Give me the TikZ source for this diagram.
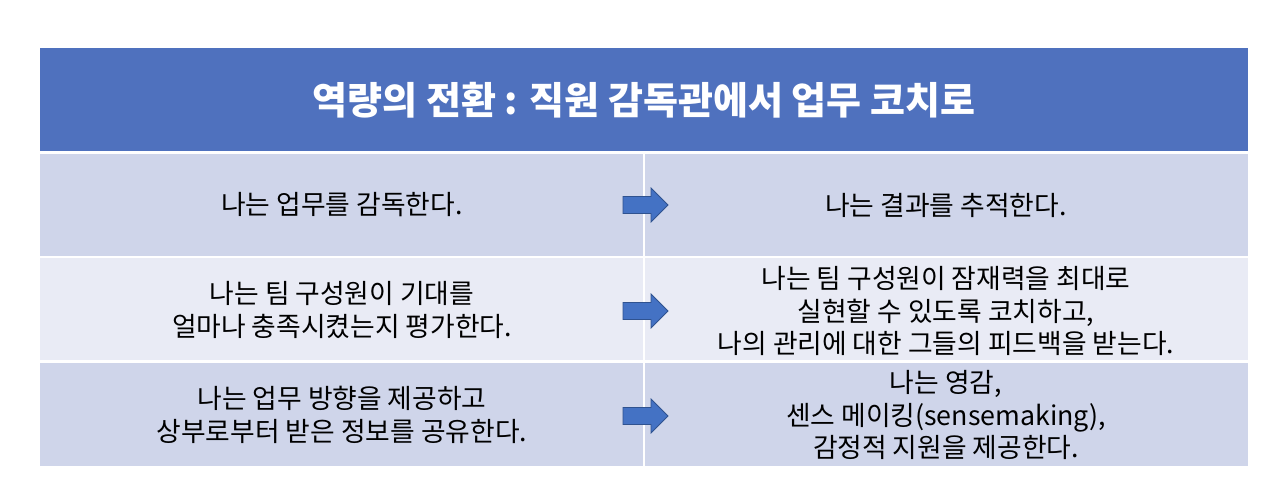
\documentclass[tikz,border=0pt]{standalone}
\usepackage{fontspec}
\setmainfont{Noto Sans CJK KR}
\usetikzlibrary{calc}
\definecolor{headblue}{HTML}{4F71BE}
\definecolor{rowdark}{HTML}{CFD5EA}
\definecolor{rowlight}{HTML}{E9EBF5}
\definecolor{arrowfill}{HTML}{4472C4}
\definecolor{arrowline}{HTML}{2F528F}
\def\Left{40}
\def\Mid{644}
\def\Right{1248}

\begin{document}
\begin{tikzpicture}[x=1pt,y=-1pt,
    celltext/.style={align=center,font=\fontsize{26.8}{32.5}\selectfont},
    arrowshape/.style={fill=arrowfill,draw=arrowline,line width=0.8pt,line join=miter}]
  \useasboundingbox (0,0) rectangle (1280,502);
  % header
  \fill [headblue] (\Left,48) rectangle (\Right,151);
  \node [text=white,font=\fontsize{38}{44}\selectfont\bfseries] (title) at (\Mid,100)
    {역량의 전환 : 직원 감독관에서 업무 코치로};
  % rows
  \fill [rowdark]  (\Left,154) rectangle (643,256);
  \fill [rowdark]  (645,154) rectangle (\Right,256);
  \fill [rowlight] (\Left,258) rectangle (643,360);
  \fill [rowlight] (645,258) rectangle (\Right,360);
  \fill [rowdark]  (\Left,363) rectangle (643,466);
  \fill [rowdark]  (645,363) rectangle (\Right,466);
  % texts
  \node [celltext] (L1) at (342,205) {나는 업무를 감독한다.};
  \node [celltext] (R1) at (946,205) {나는 결과를 추적한다.};
  \node [celltext] (L2) at (342,310) {나는 팀 구성원이 기대를\\얼마나 충족시켰는지 평가한다.};
  \node [celltext] (R2) at (946,311) {나는 팀 구성원이 잠재력을 최대로\\실현할 수 있도록 코치하고,\\나의 관리에 대한 그들의 피드백을 받는다.};
  \node [celltext] (L3) at (342,415) {나는 업무 방향을 제공하고\\상부로부터 받은 정보를 공유한다.};
  \node [celltext] (R3) at (946,415) {나는 영감,\\센스 메이킹(sensemaking),\\감정적 지원을 제공한다.};
  % arrows
  \foreach \y in {205,311,416}
    {
      \draw [arrowshape] (623,\y-8.5) -- (651,\y-8.5) -- (651,\y-17) -- (668,\y)
        -- (651,\y+17) -- (651,\y+8.5) -- (623,\y+8.5) -- cycle;
    }
\end{tikzpicture}
\end{document}
